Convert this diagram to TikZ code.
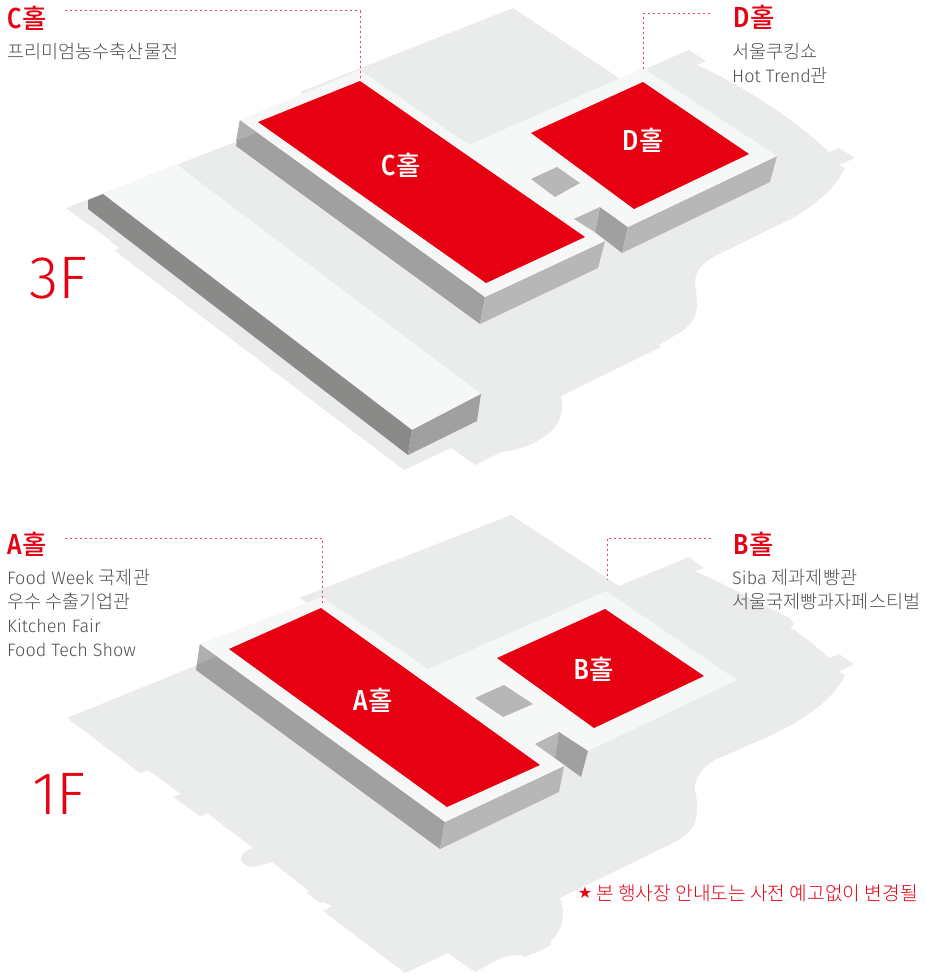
\documentclass[tikz,border=0pt]{standalone}
\usepackage{fontspec}
\usepackage{graphicx}
\setmainfont{Fira Sans}
\newfontfamily\krfont{Noto Sans CJK KR Light}
\newfontfamily\krmed{Noto Sans CJK KR Medium}
\newfontfamily\latfont{Fira Sans Light}
\newfontfamily\latmed{Fira Sans Medium}
\newfontfamily\starfont{DejaVu Sans}
\newcommand{\hallmark}[1]{\scalebox{.86}[1]{\latmed\fontsize{29}{29}\selectfont #1}\kern1pt{\krmed\fontsize{26.5}{29}\selectfont 홀}}
\newcommand{\kr}[1]{{\krfont\fontsize{18.6}{24}\selectfont #1}}
\definecolor{floorc}{HTML}{EAECEB}
\definecolor{platc}{HTML}{F5F8F7}
\definecolor{hallred}{HTML}{E60012}
\definecolor{walld}{HTML}{9FA09F}
\definecolor{walldd}{HTML}{8A8A89}
\definecolor{walll}{HTML}{B6B7B6}
\definecolor{wallm}{HTML}{AEAFAE}
\definecolor{txtc}{HTML}{505050}
\definecolor{dotc}{HTML}{EF4155}
\tikzset{
  x=1pt,y=-1pt,
  floorshape/.style={fill=floorc,draw=none},
  plat/.style={fill=platc,draw=none},
  hall/.style={fill=hallred,draw=none},
  wd/.style={fill=walld,draw=none},
  wdd/.style={fill=walldd,draw=none},
  wl/.style={fill=walll,draw=none},
  wm/.style={fill=wallm,draw=none},
  hallname/.style={anchor=center,text=white,inner sep=0pt},
  redname/.style={anchor=west,text=hallred,inner sep=0pt},
  body/.style={anchor=north west,text=txtc,font=\latfont\fontsize{18}{24}\selectfont,inner sep=0pt,align=left},
  floorname/.style={anchor=west,text=hallred,font=\latfont\fontsize{60}{60}\selectfont,inner sep=0pt},
  leader/.style={draw=dotc,line width=1pt,dash pattern=on 2pt off 3pt},
}
\begin{document}
\begin{tikzpicture}
\useasboundingbox (0,0) rectangle (924,974);
% ---------- 3F ----------
\path[floorshape] (66,208) -- (258,133) -- (330,110) -- (300,92) -- (513,8) -- (619,78) -- (630,90) -- (647,70) -- (647,68) -- (689,50) -- (706,61) -- (697,65)
 .. controls (735,82) and (790,115) .. (829,152) -- (839,148) -- (855,158) -- (839,165) -- (845,168)
 .. controls (835,190) and (812,206) .. (795,217) -- (762,233) -- (717,255)
 .. controls (703,262) and (694,272) .. (695,285) .. controls (696,292) and (697,295) .. (697,305)
 .. controls (697,318) and (688,328) .. (679,333) -- (659,345) -- (661,347) -- (561,396)
 .. controls (564,410) and (562,424) .. (545,436) .. controls (533,445) and (515,451) .. (501,452)
 -- (475,465) -- (451,448) -- (404,470) -- (115,251) -- (119,248) -- (107,238) -- cycle;
% long block
\path[plat] (103,194) -- (176,164) -- (481,394) -- (412,430) -- cycle;
\path[wdd] (88,200) -- (103,194) -- (412,430) -- (408,455) -- (88,209) -- cycle;
\path[wd] (412,430) -- (408,455) -- (477,421) -- (481,394) -- cycle;
% main platform
\path[wd] (240,120) -- (236,146) -- (480,324) -- (485,297) -- cycle;
\path[wm] (240,120) -- (258,132) -- (236,141) -- cycle;
\path[wl] (485,297) -- (480,324) -- (598,268) -- (605,241) -- cycle;
\path[wd] (600,207) -- (595,232) -- (622,253) -- (628,227) -- cycle;
\path[wl] (628,227) -- (622,253) -- (770,182) -- (777,156) -- cycle;
\path[plat] (240,120) -- (360,70) -- (469,145) -- (643,68) -- (777,156) -- (628,227) -- (600,207) -- (574,219) -- (605,241) -- (485,297) -- cycle;
\path[wl] (574,219) -- (600,207) -- (595,232) -- cycle;
\path[wl] (531,179) -- (557,167) -- (580,183) -- (555,197) -- cycle;
\path[hall] (258,122) -- (360,81) -- (585,237) -- (486,283) -- cycle;
\path[hall] (531,133) -- (643,82) -- (749,154) -- (634,209) -- cycle;
\node[hallname] (cin) at (401,165) {\hallmark{C}};
\node[hallname] (din) at (643,140) {\hallmark{D}};
\node[redname] (ct) at (7,18) {\hallmark{C}};
\node[redname] (dt) at (733,17) {\hallmark{D}};
\node[body] (cb) at (7,43) {\kr{프리미엄농수축산물전}};
\node[body] (db) at (732,43) {\kr{서울쿠킹쇼}\\Hot Trend\kr{관}};
\node[floorname] (f3) at (29,278) {3F};
\coordinate (ca) at (65,11); \coordinate (cc) at (360,11); \coordinate (ce) at (360,80);
\coordinate (da) at (710,14); \coordinate (dc) at (643,14); \coordinate (de) at (643,70);
\draw[leader] (ca) -- (cc) -- (ce);
\draw[leader] (da) -- (dc) -- (de);
% ---------- 1F ----------
\path[floorshape] (67,718) -- (217,657) -- (330,620) -- (304,601) -- (299,598) -- (511,515) -- (619,586) -- (689,557) -- (704,568) -- (695,571)
 .. controls (729,586) and (762,605) .. (790,618) -- (794,625) -- (790,627)
 .. controls (805,637) and (818,648) .. (829,658) -- (839,654) -- (854,664) -- (839,672) -- (845,675)
 .. controls (835,697) and (812,712) .. (795,723) -- (774,734) -- (717,759)
 .. controls (702,766) and (693,780) .. (695,791) .. controls (697,798) and (697,803) .. (697,811)
 .. controls (697,825) and (688,836) .. (675,842) -- (560,898)
 .. controls (565,912) and (565,928) .. (550,942) -- (552,944) .. controls (543,950) and (533,954) .. (524,957) -- (522,955)
 .. controls (514,955) and (507,956) .. (501,958) -- (475,972) -- (448,953) -- (405,973) -- (323,911) -- (332,906) -- (323,902) -- (320,903) -- (306,892) -- (309,891) -- (272,862) -- (262,865)
 .. controls (252,869) and (241,866) .. (241,858) .. controls (241,853) and (247,850) .. (253,848)
 -- (207,813) -- (200,816) -- (173,797) -- (181,794) -- (148,770) -- (140,773) -- cycle;
\path[wd] (200,644) -- (196,670) -- (440,849) -- (445,822) -- cycle;
\path[wm] (200,644) -- (217,656) -- (197,665) -- cycle;
\path[wl] (445,822) -- (440,849) -- (559,792) -- (564,766) -- cycle;
\path[plat] (200,644) -- (322,597) -- (428,669) -- (606,591) -- (737,680) -- (588,751) -- (559,732) -- (535,744) -- (564,766) -- (445,822) -- cycle;
\path[wl] (535,744) -- (559,732) -- (555,758) -- cycle;
\path[wd] (559,732) -- (588,751) -- (581,777) -- (555,758) -- cycle;
\path[wl] (475,698) -- (504,685) -- (533,704) -- (503,717) -- cycle;
\path[hall] (229,649) -- (321,608) -- (540,765) -- (447,807) -- cycle;
\path[hall] (497,658) -- (605,609) -- (704,676) -- (594,728) -- cycle;
\node[hallname] (ain) at (373,700) {\hallmark{A}};
\node[hallname] (bin) at (594,669) {\hallmark{B}};
\node[redname] (at) at (7,544) {\hallmark{A}};
\node[redname] (bt) at (733,544) {\hallmark{B}};
\node[body] (ab) at (7,569) {Food Week \kr{국제관}\\\kr{우수 수출기업관}\\Kitchen Fair\\Food Tech Show};
\node[body] (bb) at (732,569) {Siba \kr{제과제빵관}\\\kr{서울국제빵과자페스티벌}};
\node[floorname] (f1) at (32,794) {1F};
\coordinate (aa) at (65,538); \coordinate (ac) at (322,538); \coordinate (ae) at (322,606);
\coordinate (ba) at (711,538); \coordinate (bc) at (607,538); \coordinate (be) at (607,580);
\draw[leader] (aa) -- (ac) -- (ae);
\draw[leader] (ba) -- (bc) -- (be);
% note
\node[anchor=center,text=hallred,inner sep=0pt,font=\starfont\fontsize{16}{16}\selectfont] (star) at (585,893) {★};
\node[anchor=west,text=hallred,inner sep=0pt,font=\krfont\fontsize{19.2}{20}\selectfont] (note) at (596,893) {본 행사장 안내도는 사전 예고없이 변경될};
\end{tikzpicture}
\end{document}
